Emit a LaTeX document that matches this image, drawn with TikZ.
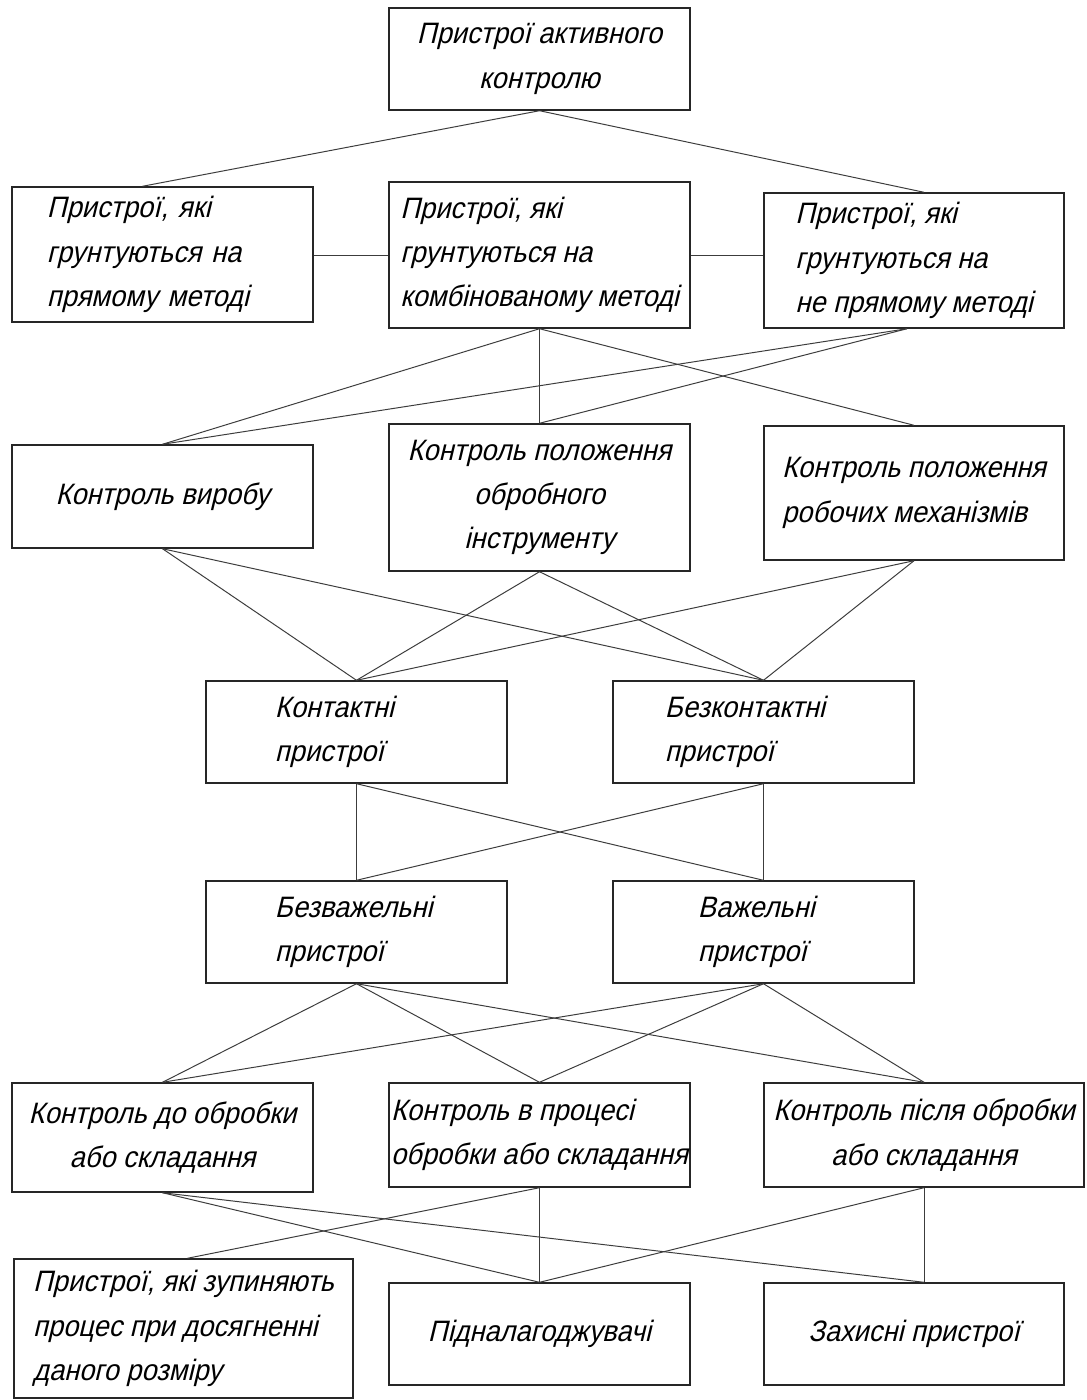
\documentclass[tikz,border=0pt]{standalone}
\usepackage{fontspec}
\newfontfamily\gostfont{Liberation Sans}[FakeStretch=0.92,FakeSlant=0.24]
\definecolor{EDGE}{HTML}{3C3C3C}

\begin{document}
\begin{tikzpicture}[x=0.025cm, y=-0.025cm,
        box/.style={draw=black!85, line width=1pt, rectangle, inner sep=0pt,
            minimum width=7.525cm, align=center,
            font=\gostfont\fontsize{21}{31.5}\selectfont},
        boxl/.style={box, align=left},
        edge/.style={EDGE, line width=0.7pt}]
            \path[use as bounding box, fill=white] (0,0) rectangle (1086,1400);

            % top
            \node[box, minimum height=2.55cm] (top) at (539.5,59) {Пристрої активного\\контролю};

            % methods
            \node[boxl, minimum height=3.375cm, inner xsep=0.875cm, text width=5.775cm] (direct) at (162.5,254.5) {Пристрої, які\\грунтуються на\\прямому методі};
            \node[boxl, minimum height=3.65cm] (comb) at (539.5,255) {Пристрої, які\\грунтуються на\\комбінованому методі};
            \node[boxl, minimum height=3.375cm, minimum width=7.5cm] (indirect) at (914,260.5) {Пристрої, які\\грунтуються на\\не прямому методі};

            % what is controlled
            \node[box, minimum height=2.575cm] (item) at (162.5,496.5) {Контроль виробу};
            \node[box, minimum height=3.675cm] (tool) at (539.5,497.5) {Контроль положення\\обробного\\інструменту};
            \node[boxl, minimum height=3.35cm, minimum width=7.5cm] (mech) at (914,493) {Контроль положення\\робочих механізмів};

            % contact
            \node[boxl, minimum height=2.55cm, inner xsep=1.725cm, text width=4.075cm] (cont) at (356.5,732) {Контактні\\пристрої};
            \node[boxl, minimum height=2.55cm, inner xsep=1.3cm, text width=4.925cm] (nocont) at (763.5,732) {Безконтактні\\пристрої};

            % lever
            \node[boxl, minimum height=2.55cm, inner xsep=1.725cm, text width=4.075cm] (nolever) at (356.5,932) {Безважельні\\пристрої};
            \node[boxl, minimum height=2.55cm, inner xsep=2.125cm, text width=3.275cm] (lever) at (763.5,932) {Важельні\\пристрої};

            % stage
            \node[box, minimum height=2.725cm] (before) at (162.5,1137.5) {Контроль до обробки\\або складання};
            \node[boxl, minimum height=2.6cm] (during) at (539.5,1135) {Контроль в процесі\\обробки або складання};
            \node[box, minimum height=2.6cm, minimum width=8cm] (after) at (924,1135) {Контроль після обробки\\або складання};

            % action
            \node[boxl, minimum height=3.475cm, minimum width=8.475cm] (stop) at (183.5,1328.5) {Пристрої, які зупиняють\\процес при досягненні\\даного розміру};
            \node[box, minimum height=2.55cm] (adjust) at (539.5,1334) {Підналагоджувачі};
            \node[box, minimum height=2.55cm, minimum width=7.5cm] (guard) at (914,1334) {Захисні пристрої};

            \draw[edge] (top.south) -- ([xshift=-0.5cm]direct.north);
            \draw[edge] (top.south) -- ([xshift=0.25cm]indirect.north);
            \draw[edge] (comb.west -| direct.east) -- (comb.west);
            \draw[edge] (comb.east) -- (comb.east -| indirect.west);

            \draw[edge] (comb.south) -- (item.north);
            \draw[edge] (comb.south) -- (tool.north);
            \draw[edge] (comb.south) -- (mech.north);
            \draw[edge] ([xshift=-0.175cm]indirect.south) -- (item.north);
            \draw[edge] ([xshift=-0.175cm]indirect.south) -- (tool.north);

            \draw[edge] (item.south) -- (cont.north);
            \draw[edge] (item.south) -- (nocont.north);
            \draw[edge] (tool.south) -- (cont.north);
            \draw[edge] (tool.south) -- (nocont.north);
            \draw[edge] (mech.south) -- (cont.north);
            \draw[edge] (mech.south) -- (nocont.north);

            \draw[edge] (cont.south) -- (nolever.north);
            \draw[edge] (cont.south) -- (lever.north);
            \draw[edge] (nocont.south) -- (nolever.north);
            \draw[edge] (nocont.south) -- (lever.north);

            \draw[edge] (nolever.south) -- (before.north);
            \draw[edge] (nolever.south) -- (during.north);
            \draw[edge] (nolever.south) -- (after.north);
            \draw[edge] (lever.south) -- (before.north);
            \draw[edge] (lever.south) -- (during.north);
            \draw[edge] (lever.south) -- (after.north);

            \draw[edge] (before.south) -- (adjust.north);
            \draw[edge] (before.south) -- (after.south |- guard.north);
            \draw[edge] (during.south) -- ([xshift=0.1cm]stop.north);
            \draw[edge] (during.south) -- (adjust.north);
            \draw[edge] (after.south) -- (adjust.north);
            \draw[edge] (after.south) -- (after.south |- guard.north);
        \end{tikzpicture}
\end{document}
